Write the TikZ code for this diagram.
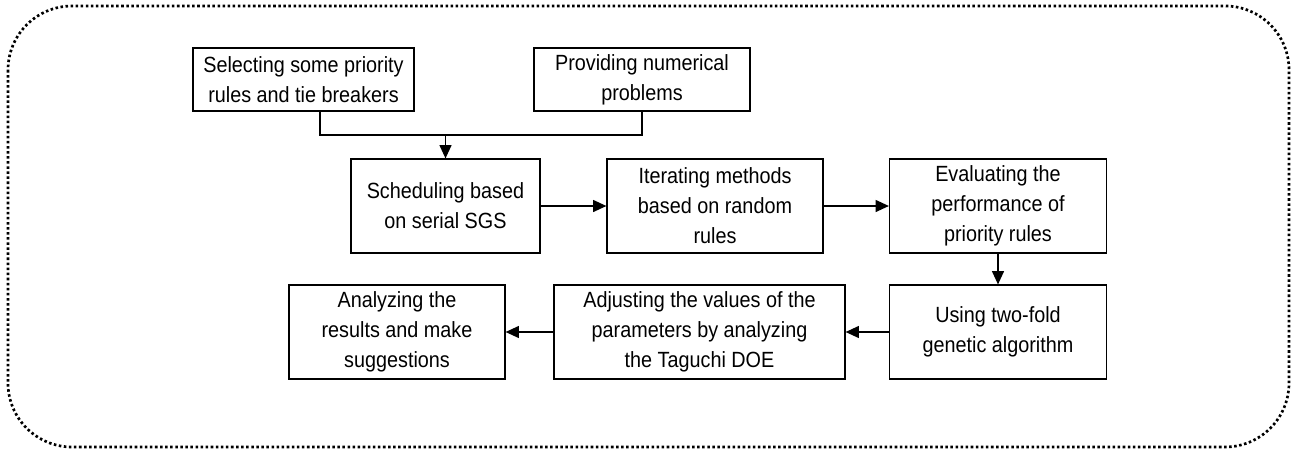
\documentclass[tikz,border=0pt]{standalone}
\usepackage{fontspec}
\setmainfont{Liberation Sans}[FakeStretch=0.9]
\usetikzlibrary{arrows.meta}
\begin{document}
\begin{tikzpicture}[x=0.75pt,y=-0.75pt,
  box/.style={draw,line width=0.9pt,align=center,inner sep=0pt,
    font=\fontsize{16.5}{22.5}\selectfont},
  conn/.style={line width=1pt},
  arr/.style={line width=1pt,-{Triangle[length=10pt,width=9pt]}},
  frame/.style={line width=2pt,dash pattern=on 1.9pt off 1.9pt,rounded corners=48pt}]
\useasboundingbox (0,0) rectangle (1293,450);
\draw[frame] (8,6) rectangle (1289,447);
\node[box,minimum width=221*0.75pt,minimum height=63*0.75pt] (b1) at (303.5,79.5) {Selecting some priority\\rules and tie breakers};
\node[box,minimum width=216*0.75pt,minimum height=63*0.75pt] (b2) at (642,79.5) {Providing numerical\\problems};
\node[box,minimum width=189*0.75pt,minimum height=94*0.75pt] (b3) at (445.5,206) {Scheduling based\\on serial SGS};
\node[box,minimum width=216*0.75pt,minimum height=94*0.75pt] (b4) at (715,206) {Iterating methods\\based on random\\rules};
\node[box,minimum width=217*0.75pt,minimum height=94*0.75pt] (b5) at (998,206) {Evaluating the\\performance of\\priority rules};
\node[box,minimum width=217*0.75pt,minimum height=94*0.75pt] (b6) at (998,332) {Using two-fold\\genetic algorithm};
\node[box,minimum width=291*0.75pt,minimum height=94*0.75pt] (b7) at (699.5,332) {Adjusting the values of the\\parameters by analyzing\\the Taguchi DOE};
\node[box,minimum width=216*0.75pt,minimum height=94*0.75pt] (b8) at (397,332) {Analyzing the\\results and make\\suggestions};
\coordinate (j) at (445.5,135);
\draw[conn] ([xshift=12.4pt]b1.south) |- (j) -| (b2.south);
\draw[arr] (j) -- (b3.north);
\draw[arr] (b3) -- (b4);
\draw[arr] (b4) -- (b5);
\draw[arr] (b5) -- (b6);
\draw[arr] (b6) -- (b7);
\draw[arr] (b7) -- (b8);
\end{tikzpicture}
\end{document}
